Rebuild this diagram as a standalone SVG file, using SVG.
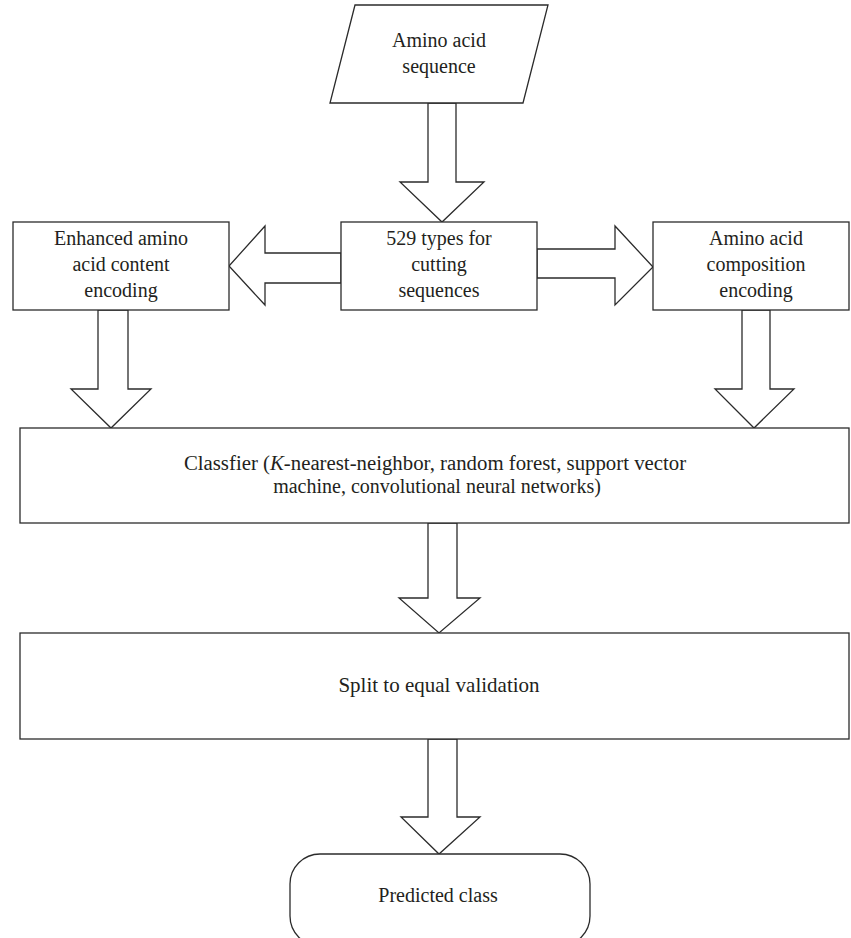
<svg xmlns="http://www.w3.org/2000/svg" width="851" height="938" viewBox="0 0 851 938">
<style>
.s{fill:#fff;stroke:#2b2b2b;stroke-width:1.3}
.t{font-family:"Liberation Serif","Times New Roman",serif;font-size:20px;fill:#231f20;text-anchor:middle}
</style>
<rect width="851" height="938" fill="#fff"/>
<g id="connectors">
<polygon class="s" points="428,103 456,103 456,182 484,182 442,222 400,182 428,182"/>
<polygon class="s" points="341,253 265,253 265,226 229,266 265,305 265,283 341,283"/>
<polygon class="s" points="537,249 615,249 615,226 653,267 615,305 615,278 537,278"/>
<polygon class="s" points="98,310 128,310 128,389 151,389 111,428 71,389 98,389"/>
<polygon class="s" points="742,310 770,310 770,389 794,389 754,428 715,389 742,389"/>
<polygon class="s" points="428,523 457,523 457,598 480,598 439,633 399,598 428,598"/>
<polygon class="s" points="428,739 457,739 457,817 480,817 439,854 401,817 428,817"/>
</g>
<g id="input">
<polygon class="s" points="355,5 548,5 523,103 330,103"/>
<text class="t" x="439" y="47">Amino acid</text>
<text class="t" x="439" y="73">sequence</text>
</g>
<g id="enhanced">
<rect class="s" x="13" y="222" width="216" height="88"/>
<text class="t" x="121" y="245">Enhanced amino</text>
<text class="t" x="121" y="271">acid content</text>
<text class="t" x="121" y="297">encoding</text>
</g>
<g id="cutting">
<rect class="s" x="341" y="222" width="196" height="88"/>
<text class="t" x="439" y="245">529 types for</text>
<text class="t" x="439" y="271">cutting</text>
<text class="t" x="439" y="297">sequences</text>
</g>
<g id="composition">
<rect class="s" x="653" y="222" width="196" height="88"/>
<text class="t" x="756" y="245">Amino acid</text>
<text class="t" x="756" y="271">composition</text>
<text class="t" x="756" y="297">encoding</text>
</g>
<g id="classifier">
<rect class="s" x="20" y="428" width="829" height="95"/>
<text class="t" x="435" y="470" style="font-size:20.8px">Classfier (<tspan font-style="italic">K</tspan>-nearest-neighbor, random forest, support vector</text>
<text class="t" x="437" y="493">machine, convolutional neural networks)</text>
</g>
<g id="split">
<rect class="s" x="20" y="633" width="829" height="106"/>
<text class="t" x="439" y="692" style="font-size:21px">Split to equal validation</text>
</g>
<g id="predicted">
<rect class="s" x="290" y="854" width="300" height="92" rx="30" ry="30"/>
<text class="t" x="438" y="902">Predicted class</text>
</g>
</svg>
